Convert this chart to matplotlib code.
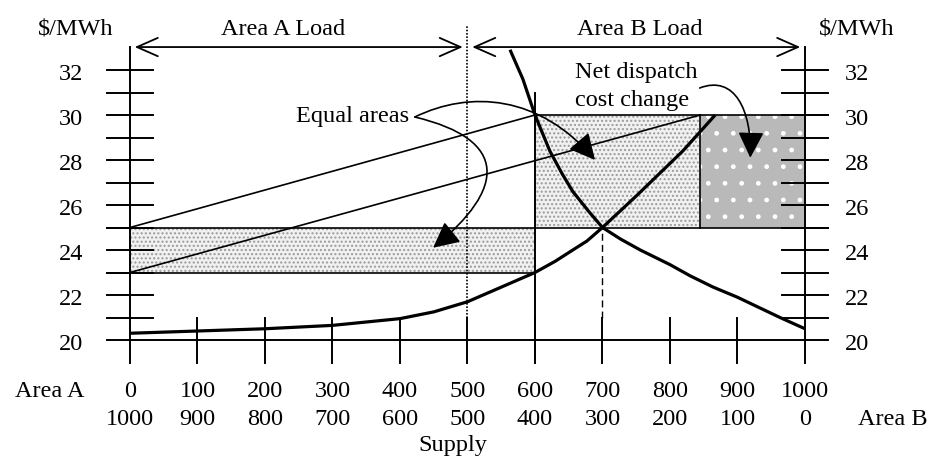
import matplotlib.pyplot as plt
from matplotlib.patches import Rectangle, FancyArrowPatch
from matplotlib.path import Path

plt.rcParams['font.family'] = ['Liberation Serif', 'DejaVu Serif']
plt.rcParams['font.size'] = 17.5

# Area A supply curve (MW measured from left)
area_a_mw = [0, 100, 200, 300, 400, 450, 500, 550, 600, 630, 656, 677, 700, 750, 800, 819, 867]
area_a_price = [20.3, 20.4, 20.5, 20.65, 20.95, 21.25, 21.7, 22.35, 23.0, 23.5, 24.0, 24.4,
                25.0, 26.4, 27.85, 28.4, 30.0]
# Area B supply curve (plotted on the Area A scale, i.e. 1000 - Area B MW)
area_b_mw = [563, 582, 600, 622, 640, 656, 680, 700, 726, 756, 800, 830, 864, 900, 963, 1000]
area_b_price = [32.9, 31.6, 30.0, 28.4, 27.4, 26.6, 25.7, 25.0, 24.5, 24.0, 23.35, 22.85,
                22.35, 21.9, 21.0, 20.5]

supply_ticks = list(range(0, 1001, 100))
area_a_labels = [str(v) for v in supply_ticks]
area_b_labels = [str(1000 - v) for v in supply_ticks]
price_ticks = list(range(21, 33))
price_labels = [20, 22, 24, 26, 28, 30, 32]

load_split = 500        # area A load / area B load boundary
flow_limit = 600        # constrained transfer
flow_free = 700         # unconstrained equilibrium
price_free = 25
price_a_con = 23
price_b_con = 30
line_end = 845          # end of the second sloped line

fig = plt.figure(figsize=(9.42, 4.58), dpi=100)
ax = fig.add_axes([0, 0, 1, 1])
ax.set_xlim(-192.6, 1203)
ax.set_ylim(14.756, 35.111)
ax.axis('off')

k = 'black'
lw_ax = 1.4
tl = 34  # half tick length (MW units)

# shaded regions
light = dict(facecolor='#f1f1f1', edgecolor='none', lw=0)
dots = dict(facecolor='none', edgecolor='#9a9a9a', lw=0, hatch='....')
for x0, x1, y0, y1 in [(0, flow_limit, price_a_con, price_free),
                       (flow_limit, line_end, price_free, price_b_con)]:
    ax.add_patch(Rectangle((x0, y0), x1 - x0, y1 - y0, **light, zorder=1))
    ax.add_patch(Rectangle((x0, y0), x1 - x0, y1 - y0, **dots, zorder=1))
ax.add_patch(Rectangle((line_end, price_free), 1000 - line_end, price_b_con - price_free,
                       facecolor='#b9b9b9', edgecolor='none', lw=0, zorder=1))
ax.add_patch(Rectangle((line_end, price_free), 1000 - line_end, price_b_con - price_free,
                       facecolor='none', edgecolor='white', lw=0, hatch='.', zorder=1))
ax.plot([line_end, line_end], [price_free, price_b_con], color=k, lw=1.2, zorder=2)

# axes frame
ax.plot([0, 0], [19, 33.02], color=k, lw=lw_ax)
ax.plot([1000, 1000], [19, 33.02], color=k, lw=lw_ax)
ax.plot([-tl, 1000 + tl], [20, 20], color=k, lw=lw_ax)
for p in price_ticks:
    ax.plot([-tl, tl], [p, p], color=k, lw=lw_ax)
    ax.plot([1000 - tl, 1000 + tl], [p, p], color=k, lw=lw_ax)
for x in supply_ticks[1:-1]:
    ax.plot([x, x], [19, 21], color=k, lw=lw_ax)

# price levels
ax.plot([-tl, flow_limit], [price_a_con, price_a_con], color=k, lw=1.2)
ax.plot([-tl, 1000 + tl], [price_free, price_free], color=k, lw=1.2)
ax.plot([flow_limit, 1000 + tl], [price_b_con, price_b_con], color=k, lw=1.2)

# vertical markers
ax.plot([load_split, load_split], [21, 34], color=k, lw=1.2, ls=(0, (1, 1)))
ax.plot([flow_limit, flow_limit], [19, 31], color=k, lw=lw_ax)
ax.plot([flow_free, flow_free], [21, price_free], color=k, lw=1.0, ls=(0, (5, 3)))

# sloped thin lines (equal-area construction)
ax.plot([0, flow_limit], [price_free, price_b_con], color=k, lw=1.2)
ax.plot([0, line_end], [price_a_con, price_b_con], color=k, lw=1.2)

# supply curves
ax.plot(area_a_mw, area_a_price, color=k, lw=2.3, solid_capstyle='butt', solid_joinstyle='round')
ax.plot(area_b_mw, area_b_price, color=k, lw=2.3, solid_capstyle='butt', solid_joinstyle='round')

# load arrows
for a, b in [(7, 493), (507, 993)]:
    ax.add_patch(FancyArrowPatch((a, 33.02), (b, 33.02),
                                 arrowstyle='<->,head_length=0.75,head_width=0.33',
                                 mutation_scale=20, lw=1.3, color=k, shrinkA=0, shrinkB=0))
ax.text(227, 33.56, 'Area A Load', ha='center', va='baseline')
ax.text(755, 33.56, 'Area B Load', ha='center', va='baseline')
ax.text(-81, 33.56, '$/MWh', ha='center', va='baseline')
ax.text(1077, 33.56, '$/MWh', ha='center', va='baseline')

# price labels
for p in price_labels:
    ax.text(-87, p - 0.45, str(p), ha='center', va='baseline')
    ax.text(1077, p - 0.45, str(p), ha='center', va='baseline')

# supply labels
for x, la, lb in zip(supply_ticks, area_a_labels, area_b_labels):
    ax.text(x, 17.47, la, ha='center', va='baseline')
    ax.text(x, 16.22, lb, ha='center', va='baseline')
ax.text(-118.5, 17.47, 'Area A', ha='center', va='baseline')
ax.text(1130, 16.22, 'Area B', ha='center', va='baseline')
ax.text(478, 15.07, 'Supply', ha='center', va='baseline')

# annotations
ax.text(413, 29.69, 'Equal areas', ha='right', va='baseline')
ax.text(659, 31.64, 'Net dispatch', ha='left', va='baseline')
ax.text(659, 30.40, 'cost change', ha='left', va='baseline')

C = [Path.MOVETO, Path.CURVE4, Path.CURVE4, Path.CURVE4]
curves = [
    [(422, 29.91), (504, 31.11), (607, 30.89), (689, 28.0)],
    [(422, 29.91), (563, 28.9), (556, 26.7), (449, 24.1)],
    [(844, 31.2), (896, 31.8), (921, 30.2), (919, 28.1)],
]
for v in curves:
    ax.add_patch(FancyArrowPatch(path=Path(v, C),
                                 arrowstyle='-|>,head_length=0.8,head_width=0.4',
                                 mutation_scale=20, lw=1.2, color=k, zorder=4))

fig.savefig('out.png', dpi=100)
